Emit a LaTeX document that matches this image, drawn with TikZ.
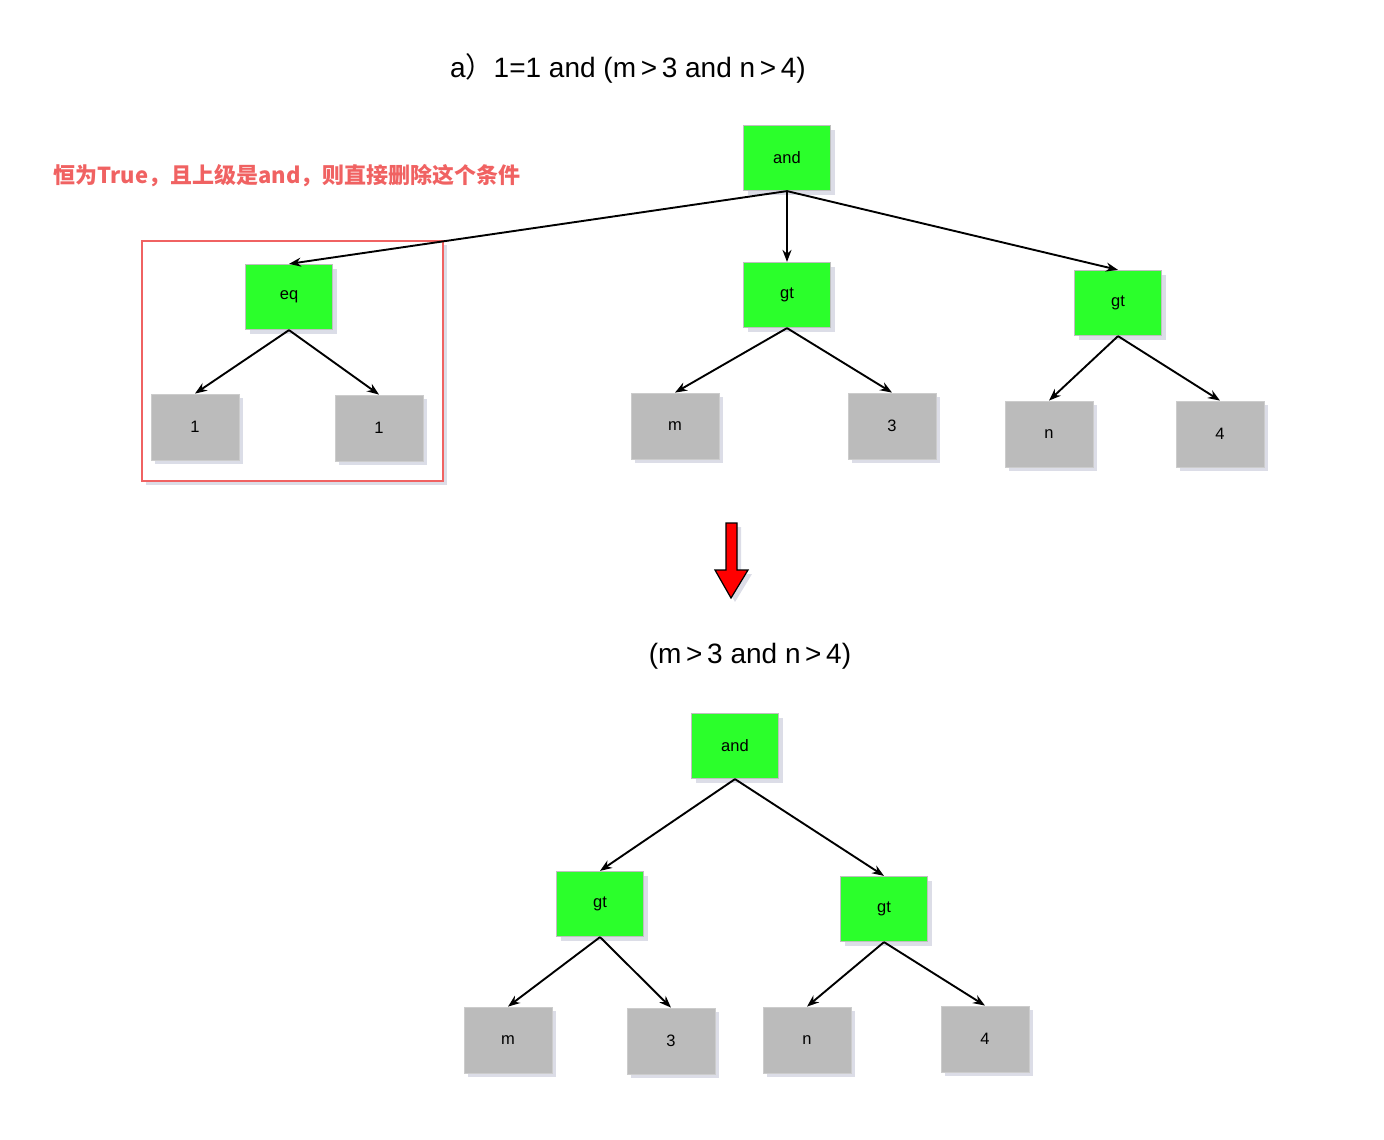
\documentclass[tikz,border=0pt]{standalone}
\usepackage{fontspec}
\setmainfont{Liberation Sans}
\newfontfamily\cjk{Noto Sans CJK SC}
\usetikzlibrary{arrows.meta,shadows}
\definecolor{nodegreen}{HTML}{2BFF2B}
\definecolor{nodegray}{HTML}{BBBBBB}
\definecolor{noteRed}{HTML}{F06262}
\definecolor{shadowc}{HTML}{8A8FB0}
\tikzset{
  shad/.style={drop shadow={opacity=0.3,shadow xshift=4pt,shadow yshift=-4pt,fill=shadowc}},
  opnode/.style={shad,fill=nodegreen,draw=black!25,line width=1.2pt,minimum width=87pt,minimum height=65pt,inner sep=0pt,font=\fontsize{16.5pt}{18pt}\selectfont},
  leafnode/.style={shad,fill=nodegray,draw=black!20,line width=0.8pt,minimum width=88pt,minimum height=66pt,inner sep=0pt,font=\fontsize{16.5pt}{18pt}\selectfont},
  edge/.style={line width=1.9pt,-{Stealth[length=12pt,width=9pt]}},
  titletext/.style={font=\fontsize{28pt}{31pt}\selectfont}
}
\begin{document}
\begin{tikzpicture}[x=1pt,y=-1pt]
\useasboundingbox (0,0) rectangle (1384,1140);
% titles
\node[titletext] (t1) at (628,68) {a{\cjk）}1=1 and (m\,>\,3 and n\,>\,4)};
\node[titletext] (t2) at (750,656) {(m\,>\,3 and n\,>\,4)};
\node[text=noteRed,font=\cjk\bfseries\fontsize{22pt}{24pt}\selectfont] (note) at (287,176) {恒为True，且上级是and，则直接删除这个条件};
% red frame
\draw[shad,draw=noteRed,line width=1.8pt,fill=white] (142,241) rectangle (443,481);
% top tree
\node[opnode] (and1) at (787,158) {and};
\node[opnode] (eq) at (289,297) {eq};
\node[opnode] (gta) at (787,295) {gt};
\node[opnode] (gtb) at (1118,303) {gt};
\node[leafnode] (oneA) at (195,427) {1};
\node[leafnode] (oneB) at (379,428) {1};
\node[leafnode] (m1) at (675,426) {m};
\node[leafnode] (three1) at (892,426) {3};
\node[leafnode] (n1) at (1049,434) {n};
\node[leafnode] (four1) at (1220,434) {4};
\draw[edge] (and1.south) -- (eq.north);
\draw[edge] (and1.south) -- (gta.north);
\draw[edge] (and1.south) -- (gtb.north);
\draw[edge] (eq.south) -- (oneA.north);
\draw[edge] (eq.south) -- (oneB.north);
\draw[edge] (gta.south) -- (m1.north);
\draw[edge] (gta.south) -- (three1.north);
\draw[edge] (gtb.south) -- (n1.north);
\draw[edge] (gtb.south) -- (four1.north);
% red arrow
\draw[shad,fill=red,draw=black,line width=1.2pt,line join=miter]
  (726,523) -- (737,523) -- (737,570) -- (748,570) -- (731,598) -- (715,570) -- (726,570) -- cycle;
% bottom tree
\node[opnode] (and2) at (735,746) {and};
\node[opnode] (gtc) at (600,904) {gt};
\node[opnode] (gtd) at (884,909) {gt};
\node[leafnode] (m2) at (508,1040) {m};
\node[leafnode] (three2) at (671,1041) {3};
\node[leafnode] (n2) at (807,1040) {n};
\node[leafnode] (four2) at (985,1039) {4};
\draw[edge] (and2.south) -- (gtc.north);
\draw[edge] (and2.south) -- (gtd.north);
\draw[edge] (gtc.south) -- (m2.north);
\draw[edge] (gtc.south) -- (three2.north);
\draw[edge] (gtd.south) -- (n2.north);
\draw[edge] (gtd.south) -- (four2.north);
\end{tikzpicture}
\end{document}
